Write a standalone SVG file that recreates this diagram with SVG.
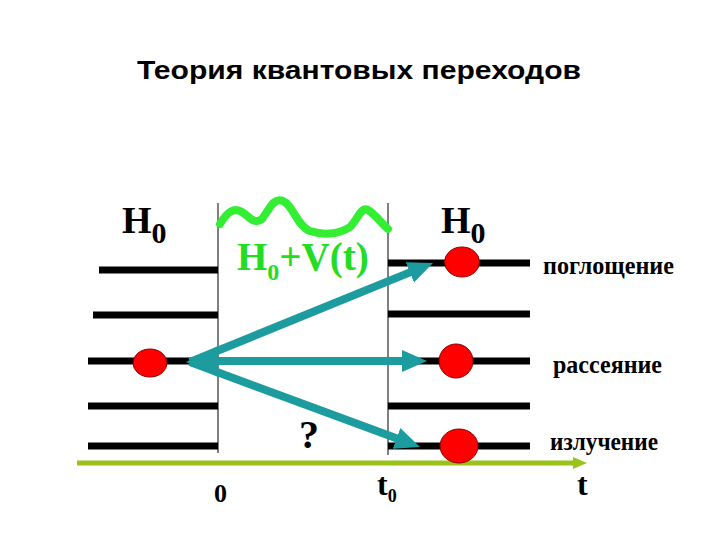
<svg xmlns="http://www.w3.org/2000/svg" width="720" height="540" viewBox="0 0 720 540">
  <style>
    .lvl { stroke: #000; stroke-width: 7; fill: none; }
    .wall { stroke: #000; stroke-width: 1; fill: none; }
    .dot { fill: #ff0000; stroke: #8a0000; stroke-width: 1; }
    .title { font-family: "Liberation Sans", Arial, sans-serif; font-weight: bold; fill: #000; }
    .ser { font-family: "Liberation Serif", "Times New Roman", serif; font-weight: bold; fill: #000; }
    .green { fill: #22dd22; }
    .teal { stroke: #1c9c9e; stroke-width: 8; fill: none; marker-end: url(#tealHead); }
  </style>
  <defs>
    <marker id="tealHead" markerUnits="userSpaceOnUse" markerWidth="26" markerHeight="24" viewBox="0 0 26 24" refX="2" refY="12" orient="auto">
      <path d="M0,1 L25,12 L0,23 z" fill="#1c9c9e"/>
    </marker>
    <marker id="axisHead" markerUnits="userSpaceOnUse" markerWidth="15" markerHeight="12" viewBox="0 0 15 12" refX="1" refY="6" orient="auto">
      <path d="M0,0 L14,6 L0,12 z" fill="#99c21a"/>
    </marker>
  </defs>

  <rect width="720" height="540" fill="#fff"/>

  <g id="title">
    <text class="title" x="137" y="79" font-size="25" textLength="444" lengthAdjust="spacingAndGlyphs">Теория квантовых переходов</text>
  </g>

  <g id="time-axis">
    <line x1="77" y1="463" x2="574" y2="463" stroke="#99c21a" stroke-width="5" marker-end="url(#axisHead)"/>
    <text class="ser" x="214" y="502" font-size="26">0</text>
    <text class="ser" x="377" y="495" font-size="32">t<tspan font-size="18" dy="7">0</tspan></text>
    <text class="ser" x="577" y="495" font-size="32">t</text>
  </g>

  <g id="left-levels">
    <line class="lvl" x1="99" y1="270" x2="218" y2="270"/>
    <line class="lvl" x1="93" y1="315" x2="218" y2="315"/>
    <line class="lvl" x1="88" y1="361" x2="218" y2="361"/>
    <line class="lvl" x1="88" y1="406" x2="218" y2="406"/>
    <line class="lvl" x1="88" y1="446" x2="218" y2="446"/>
    <text class="ser" x="122" y="233" font-size="38">H<tspan font-size="30" dy="10">0</tspan></text>
  </g>

  <g id="interaction-region">
    <line class="wall" x1="218" y1="203" x2="218" y2="453"/>
    <line class="wall" x1="388" y1="203" x2="388" y2="455"/>
    <path d="M220,224 C227,212 234,207 242,212 S254,225 262,219 C270,208 274,197 283,201 C293,205 297,226 310,231 C322,235 338,235 350,227 C358,219 361,206 368,210 C376,215 382,224 388,229" fill="none" stroke="#33ee33" stroke-width="8" stroke-linecap="round" stroke-linejoin="round"/>
    <text class="ser green" x="237" y="270" font-size="39">H<tspan font-size="24" dy="10">0</tspan><tspan dy="-10">+V(t)</tspan></text>
    <text class="ser" x="299" y="448" font-size="40">?</text>
  </g>

  <g id="right-levels">
    <line class="lvl" x1="388" y1="263" x2="530" y2="263"/>
    <line class="lvl" x1="388" y1="314" x2="530" y2="314"/>
    <line class="lvl" x1="388" y1="361" x2="530" y2="361"/>
    <line class="lvl" x1="388" y1="406" x2="530" y2="406"/>
    <line class="lvl" x1="388" y1="446" x2="530" y2="446"/>
    <text class="ser" x="441" y="233" font-size="38">H<tspan font-size="30" dy="10">0</tspan></text>
  </g>

  <g id="initial-state">
    <ellipse class="dot" cx="150" cy="363" rx="17" ry="14"/>
  </g>

  <g id="absorption">
    <ellipse class="dot" cx="462" cy="262" rx="17.5" ry="15"/>
    <text class="ser" x="543" y="274" font-size="26" textLength="131" lengthAdjust="spacingAndGlyphs">поглощение</text>
  </g>

  <g id="scattering">
    <ellipse class="dot" cx="456" cy="361" rx="17" ry="17"/>
    <text class="ser" x="553" y="373" font-size="26" textLength="109" lengthAdjust="spacingAndGlyphs">рассеяние</text>
  </g>

  <g id="emission">
    <ellipse class="dot" cx="459" cy="446" rx="19" ry="17"/>
    <text class="ser" x="550" y="450" font-size="26" textLength="108" lengthAdjust="spacingAndGlyphs">излучение</text>
  </g>

  <g id="connectors">
    <polygon points="186,362 218,346 218,377" fill="#1c9c9e"/>
    <line class="teal" x1="190" y1="362" x2="411.7" y2="271.6"/>
    <line class="teal" x1="190" y1="361" x2="404" y2="361"/>
    <line class="teal" x1="190" y1="362" x2="398.4" y2="439.1"/>
  </g>
</svg>
